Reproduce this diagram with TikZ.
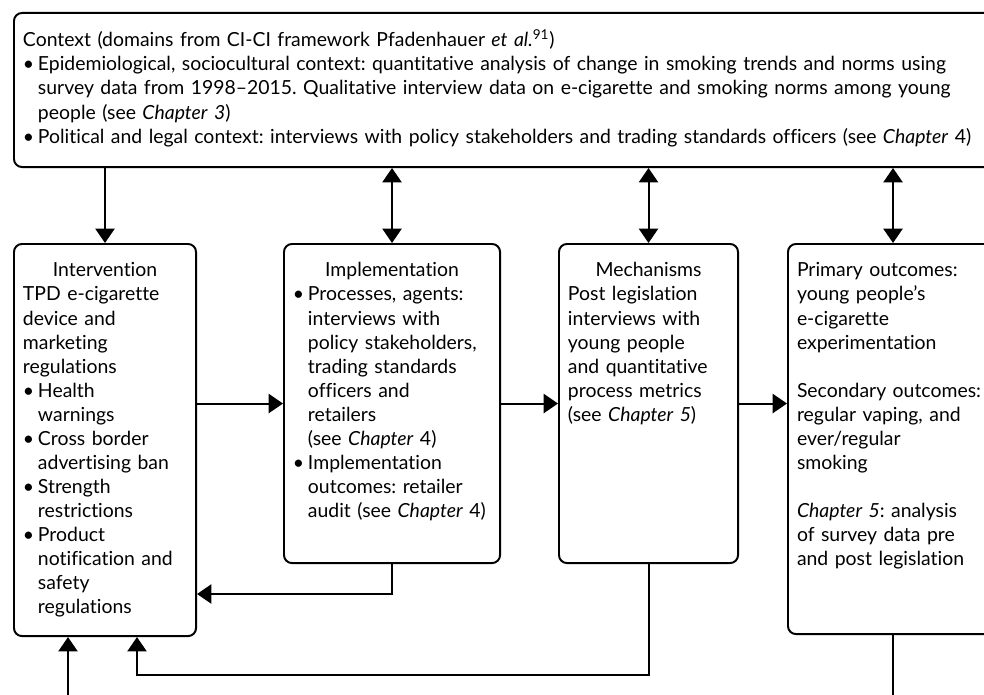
\documentclass[tikz,border=0pt]{standalone}
\usepackage{fontspec}
\setmainfont{Lato}[Ligatures=NoCommon]
\frenchspacing
\usepackage{tikz}
\usetikzlibrary{positioning,calc}
\usetikzlibrary{arrows.meta}
\tikzstyle{stage} = [draw, line width=1.4pt, rounded corners=0.2cm, anchor=north west, align=left, inner xsep=0.225cm, inner ysep=0pt, text height=0.825cm, font=\fontsize{13.8}{17.07}\selectfont]
\tikzstyle{arrow} = [line width=1.4pt,-{Triangle[length=0.36cm,width=0.48cm]}]
\tikzstyle{twoway} = [line width=1.4pt,{Triangle[length=0.36cm,width=0.48cm]}-{Triangle[length=0.36cm,width=0.48cm]}]
\newcommand{\bul}{\makebox[0.375cm][l]{\textbullet}}
\newcommand{\ind}{\hspace*{0.375cm}}
\begin{document}
\begin{tikzpicture}[x=0.025cm,y=-0.025cm]
\useasboundingbox (0,0) rectangle (984,695);
\clip (0,0) rectangle (984,695);
\node[stage, text width=24.225cm, text height=0.85cm, text depth=3.0cm] (ctx) at (13,12) {Context (domains from CI-CI framework Pfadenhauer \textit{et al.}\textsuperscript{91})\\
\bul Epidemiological, sociocultural context: quantitative analysis of change in smoking trends and norms using\\
\ind survey data from 1998–2015. Qualitative interview data on e-cigarette and smoking norms among young\\
\ind people (see \textit{Chapter 3})\\
\bul Political and legal context: interviews with policy stakeholders and trading standards officers (see \textit{Chapter} 4)};
\node[stage, text width=4.1cm, text depth=8.975cm] (int) at (13,243) {\makebox[4.1cm]{Intervention}\\
TPD e-cigarette\\ device and\\ marketing\\ regulations\\
\bul Health\\ \ind warnings\\
\bul Cross border\\ \ind advertising ban\\
\bul Strength\\ \ind restrictions\\
\bul Product\\ \ind notification and\\ \ind safety\\ \ind regulations};
\node[stage, text width=4.95cm, text depth=7.15cm] (imp) at (283,243) {\makebox[4.95cm]{Implementation}\\
\bul Processes, agents:\\ \ind interviews with\\ \ind policy stakeholders,\\ \ind trading standards\\ \ind officers and\\ \ind retailers\\ \ind (see \textit{Chapter} 4)\\
\bul Implementation\\ \ind outcomes: retailer\\ \ind audit (see \textit{Chapter} 4)};
\node[stage, text width=4.025cm, text depth=7.15cm] (mech) at (558,243) {\makebox[4.025cm]{Mechanisms}\\
Post legislation\\ interviews with\\ young people\\ and quantitative\\ process metrics\\ (see \textit{Chapter 5})};
\node[stage, text width=4.8cm, text depth=8.925cm] (out) at (787,243) {Primary outcomes:\\ young people’s\\ e-cigarette\\ experimentation\\ \mbox{}\\
Secondary outcomes:\\ regular vaping, and\\ ever/regular\\ smoking\\ \mbox{}\\
\textit{Chapter 5}: analysis\\ of survey data pre\\ and post legislation};
\draw[arrow] (int.north |- ctx.south) -- (int.north);
\draw[twoway] (imp.north |- ctx.south) -- (imp.north);
\draw[twoway] (mech.north |- ctx.south) -- (mech.north);
\draw[twoway] (out.north |- ctx.south) -- (out.north);
\draw[arrow] (int.east |- imp.west) -- (imp.west);
\draw[arrow] (imp.east) -- (mech.west);
\draw[arrow] (mech.east) -- (mech.east -| out.west);
\coordinate (back1) at (0,594);
\draw[arrow] (imp.south) |- (int.east |- back1);
\coordinate (back2) at (137,675);
\draw[arrow] (mech.south) |- (back2) -- (back2 |- int.south);
\coordinate (base) at (68,700);
\draw[arrow] (base) -- (base |- int.south);
\draw[line width=1.4pt] (out.south) -- (out.south |- base);
\end{tikzpicture}
\end{document}
